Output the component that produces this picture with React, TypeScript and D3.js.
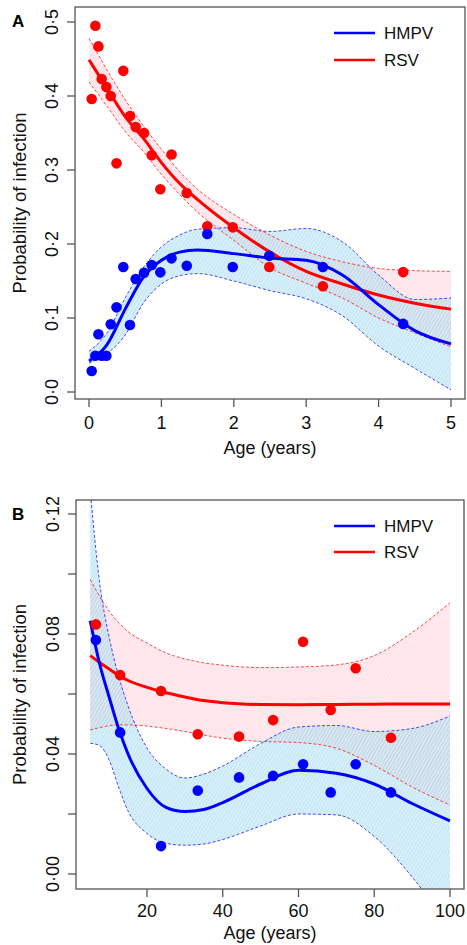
import React from 'react';
import * as d3 from 'd3';

const W = 467;
const H = 945;
const FONT = "'Liberation Sans', Arial, Helvetica, sans-serif";
const BLUE = '#0000ff';
const RED = '#ff0000';

// ---- Panel A: 0-5 years ----
const ageA = [0.037, 0.088, 0.13, 0.175, 0.24, 0.3, 0.38, 0.474, 0.566, 0.645, 0.76, 0.866, 0.985, 1.14, 1.35, 1.634, 1.985, 2.49, 3.23, 4.34];
const hmpvPtsA = [0.0284, 0.049, 0.078, 0.049, 0.049, 0.0915, 0.1144, 0.169, 0.0905, 0.1527, 0.161, 0.1716, 0.1617, 0.1806, 0.1707, 0.2135, 0.169, 0.184, 0.169, 0.092];
const rsvPtsA = [0.396, 0.495, 0.467, 0.423, 0.412, 0.4, 0.309, 0.434, 0.373, 0.358, 0.35, 0.32, 0.274, 0.321, 0.269, 0.224, 0.2225, 0.169, 0.143, 0.162];

const gridA = [0, 0.25, 0.5, 0.75, 1, 1.25, 1.5, 2, 2.5, 3, 3.5, 4, 4.5, 5];
const hmpvFitA = [0.042, 0.064, 0.112, 0.155, 0.178, 0.189, 0.192, 0.187, 0.181, 0.178, 0.158, 0.118, 0.083, 0.065];
const hmpvLoA = [0.039, 0.052, 0.077, 0.12, 0.146, 0.157, 0.16, 0.15, 0.137, 0.126, 0.103, 0.062, 0.032, 0.003];
const hmpvHiA = [0.055, 0.08, 0.127, 0.168, 0.196, 0.212, 0.22, 0.222, 0.217, 0.221, 0.203, 0.158, 0.125, 0.127];
const rsvFitA = [0.449, 0.41, 0.372, 0.343, 0.31, 0.282, 0.26, 0.222, 0.189, 0.163, 0.146, 0.131, 0.12, 0.112];
const rsvLoA = [0.419, 0.386, 0.352, 0.325, 0.294, 0.267, 0.243, 0.205, 0.168, 0.147, 0.127, 0.1, 0.08, 0.061];
const rsvHiA = [0.478, 0.435, 0.395, 0.36, 0.328, 0.298, 0.274, 0.24, 0.212, 0.19, 0.176, 0.167, 0.164, 0.163];

const xTicksA = [0, 1, 2, 3, 4, 5];
const yTicksA = [0, 0.1, 0.2, 0.3, 0.4, 0.5];

// ---- Panel B: 5-100 years ----
const ageB = [6.5, 12.9, 23.7, 33.4, 44.3, 53.3, 61.2, 68.5, 75.1, 84.4];
const hmpvPtsB = [0.078, 0.0472, 0.0093, 0.0278, 0.0322, 0.0327, 0.0366, 0.0272, 0.0366, 0.0272];
const rsvPtsB = [0.0832, 0.0663, 0.061, 0.0466, 0.0458, 0.0513, 0.0774, 0.0547, 0.0686, 0.0454];

const gridB = [5, 7.5, 10, 12.5, 15, 20, 25, 30, 35, 40, 50, 60, 70, 80, 90, 100];
const hmpvFitB = [0.0844, 0.07, 0.059, 0.0485, 0.04, 0.0285, 0.0222, 0.0208, 0.0215, 0.0238, 0.03, 0.0346, 0.0336, 0.03, 0.0235, 0.0177];
const hmpvLoB = [0.0436, 0.0428, 0.038, 0.029, 0.021, 0.0135, 0.0102, 0.0096, 0.01, 0.0115, 0.016, 0.02, 0.0197, 0.0125, -0.001, -0.018];
const hmpvHiB = [0.128, 0.097, 0.079, 0.066, 0.056, 0.042, 0.035, 0.032, 0.0333, 0.036, 0.0435, 0.049, 0.0495, 0.0475, 0.0485, 0.0527];
const rsvFitB = [0.0728, 0.0705, 0.0683, 0.0662, 0.0645, 0.0622, 0.0604, 0.059, 0.0578, 0.0571, 0.0565, 0.0564, 0.0565, 0.0566, 0.0567, 0.0567];
const rsvLoB = [0.048, 0.0488, 0.0494, 0.0497, 0.0497, 0.0493, 0.0485, 0.0475, 0.0463, 0.0453, 0.0442, 0.0438, 0.0419, 0.0362, 0.029, 0.023];
const rsvHiB = [0.0982, 0.0925, 0.0876, 0.0838, 0.0808, 0.077, 0.0737, 0.0717, 0.0704, 0.0696, 0.0688, 0.069, 0.0697, 0.0728, 0.0805, 0.0904];

const xTicksB = [20, 40, 60, 80, 100];
const yTicksB = [0, 0.02, 0.04, 0.06, 0.08, 0.1, 0.12];
const yLabelsB = [0, 0.04, 0.08, 0.12];

const dot = (s: string) => s.replace('.', '\u00b7');

type Series = { grid: number[]; fit: number[]; lo: number[]; hi: number[]; ages: number[]; pts: number[] };

function Panel(props: any) {
  const { id, label, box, x, y, xTicks, yTicks, yLabels, fmt, hmpv, rsv, xLabY, xTitleY, legendY } = props;
  const { l, r, t, b } = box;

  const area = (s: Series) =>
    d3.area<number>()
      .x((_, i) => x(s.grid[i]))
      .y0((_, i) => y(s.lo[i]))
      .y1((_, i) => y(s.hi[i]))
      .curve(d3.curveMonotoneX)(s.grid) || '';
  const line = (s: Series, key: 'fit' | 'lo' | 'hi') =>
    d3.line<number>()
      .x((_, i) => x(s.grid[i]))
      .y((_, i) => y(s[key][i]))
      .curve(d3.curveMonotoneX)(s.grid) || '';

  const bands = [
    { s: rsv as Series, c: RED, fill: '#ffc0cb' },
    { s: hmpv as Series, c: BLUE, fill: '#87ceeb' },
  ];

  return (
    <g>
      <defs>
        <clipPath id={`clip-${id}`}>
          <rect x={l} y={t} width={r - l} height={b - t} />
        </clipPath>
      </defs>
      <g clipPath={`url(#clip-${id})`}>
        {bands.map((d, i) => (
          <g key={i}>
            <path d={area(d.s)} fill={d.fill} fillOpacity={0.45} />
            <path d={area(d.s)} fill="url(#hatch)" />
          </g>
        ))}
        {bands.map((d, i) => (
          <g key={'ci' + i}>
            <path d={line(d.s, 'lo')} fill="none" stroke={d.c} strokeWidth={1} strokeDasharray="3,2" strokeOpacity={0.7} />
            <path d={line(d.s, 'hi')} fill="none" stroke={d.c} strokeWidth={1} strokeDasharray="3,2" strokeOpacity={0.7} />
          </g>
        ))}
        {bands.map((d, i) => (
          <path key={'fit' + i} d={line(d.s, 'fit')} fill="none" stroke={d.c} strokeWidth={3} />
        ))}
        {bands.map((d, i) =>
          d.s.ages.map((a, j) => (
            <circle key={`p${i}-${j}`} cx={x(a)} cy={y(d.s.pts[j])} r={5.3} fill={d.c} />
          ))
        )}
      </g>

      {/* frame and axes */}
      <rect x={l} y={t} width={r - l} height={b - t} fill="none" stroke="#555" strokeWidth={1.3} />
      {xTicks.map((v: number) => (
        <g key={'x' + v}>
          <line x1={x(v)} x2={x(v)} y1={b} y2={b + 8} stroke="#555" strokeWidth={1.3} />
          <text x={x(v)} y={xLabY} textAnchor="middle" fontSize={18} fill="#111">{v}</text>
        </g>
      ))}
      {yTicks.map((v: number) => (
        <line key={'y' + v} x1={l - 8} x2={l} y1={y(v)} y2={y(v)} stroke="#555" strokeWidth={1.3} />
      ))}
      {yLabels.map((v: number) => (
        <text key={'yl' + v} transform={`translate(${l - 17},${y(v)}) rotate(-90)`} textAnchor="middle" fontSize={18} fill="#111">
          {dot(fmt(v))}
        </text>
      ))}
      <text x={(l + r) / 2} y={xTitleY} textAnchor="middle" fontSize={18} fill="#111">Age (years)</text>
      <text transform={`translate(26,${(t + b) / 2}) rotate(-90)`} textAnchor="middle" fontSize={18.5} fill="#111">
        Probability of infection
      </text>
      <text x={12} y={t + 20} fontSize={17} fontWeight="bold" fill="#000">{label}</text>

      {/* legend */}
      {[
        { name: 'HMPV', c: BLUE },
        { name: 'RSV', c: RED },
      ].map((d, i) => (
        <g key={d.name}>
          <line x1={334} x2={375} y1={legendY[i]} y2={legendY[i]} stroke={d.c} strokeWidth={2.5} />
          <text x={384} y={legendY[i] + 6} fontSize={17} fill="#111">{d.name}</text>
        </g>
      ))}
    </g>
  );
}

export default function App() {
  const boxA = { l: 75, r: 465, t: 7, b: 399 };
  const xA = d3.scaleLinear().domain([0, 5]).range([89, 451]);
  const yA = d3.scaleLinear().domain([0, 0.5]).range([392, 22]);

  const boxB = { l: 76, r: 464, t: 500, b: 889 };
  const xB = d3.scaleLinear().domain([20, 100]).range([147, 450]);
  const yB = d3.scaleLinear().domain([0, 0.12]).range([874, 514]);

  return (
    <svg width={W} height={H} style={{ position: 'absolute', left: 0, top: 0, background: '#fff' }} fontFamily={FONT}>
      <defs>
        <pattern id="hatch" patternUnits="userSpaceOnUse" width={3} height={3} patternTransform="rotate(30)">
          <line x1={0.5} y1={0} x2={0.5} y2={3} stroke="#fff" strokeWidth={0.8} strokeOpacity={0.55} />
        </pattern>
      </defs>
      <rect x={0} y={0} width={W} height={H} fill="#fff" />
      <Panel
        id="a"
        label="A"
        box={boxA}
        x={xA}
        y={yA}
        xTicks={xTicksA}
        yTicks={yTicksA}
        yLabels={yTicksA}
        fmt={d3.format('.1f')}
        hmpv={{ grid: gridA, fit: hmpvFitA, lo: hmpvLoA, hi: hmpvHiA, ages: ageA, pts: hmpvPtsA }}
        rsv={{ grid: gridA, fit: rsvFitA, lo: rsvLoA, hi: rsvHiA, ages: ageA, pts: rsvPtsA }}
        xLabY={429}
        xTitleY={454}
        legendY={[33, 60]}
      />
      <Panel
        id="b"
        label="B"
        box={boxB}
        x={xB}
        y={yB}
        xTicks={xTicksB}
        yTicks={yTicksB}
        yLabels={yLabelsB}
        fmt={d3.format('.2f')}
        hmpv={{ grid: gridB, fit: hmpvFitB, lo: hmpvLoB, hi: hmpvHiB, ages: ageB, pts: hmpvPtsB }}
        rsv={{ grid: gridB, fit: rsvFitB, lo: rsvLoB, hi: rsvHiB, ages: ageB, pts: rsvPtsB }}
        xLabY={917}
        xTitleY={939}
        legendY={[526, 552]}
      />
    </svg>
  );
}
